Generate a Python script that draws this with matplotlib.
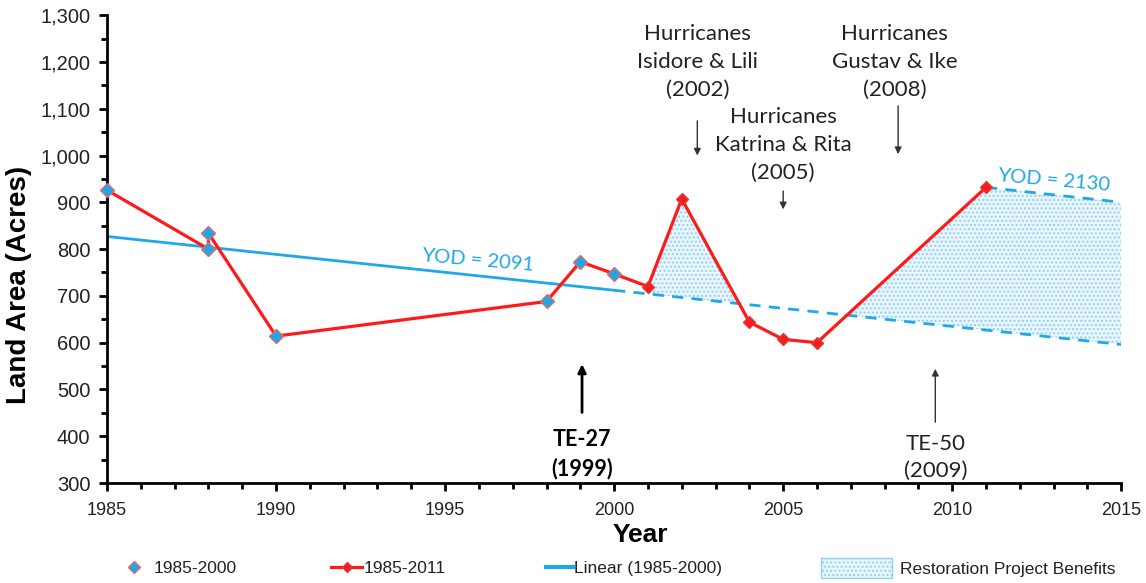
import numpy as np
import matplotlib
matplotlib.use("Agg")
import matplotlib.pyplot as plt
from matplotlib.ticker import MultipleLocator, FuncFormatter
from matplotlib.patches import Patch
from matplotlib.lines import Line2D

plt.rcParams['font.family'] = ['Liberation Sans', 'DejaVu Sans']

# land area, all years (order as plotted)
years = [1985, 1988, 1988, 1990, 1998, 1999, 2000, 2001, 2002, 2004, 2005, 2006, 2011]
acres = [926, 800, 834, 614, 688, 773, 747, 720, 907, 644, 607, 600, 932]

# 1985-2000 subset (blue markers)
years_early = [1985, 1988, 1988, 1990, 1998, 1999, 2000]
acres_early = [926, 800, 834, 614, 688, 773, 747]

# linear trend
trend_years = [1985, 2000, 2015]
trend_vals = [827, 712, 596]
yod2_years = [2011, 2015]
yod2_vals = [932, 900]

BLUE = '#1fa8e8'
RED = '#ff1a1a'
FILL = '#eaf6fd'
HATCH = '#8fd0f2'
CAL = ['Lato', 'DejaVu Sans']

fig = plt.figure(figsize=(11.46, 5.83), dpi=100)
ax = fig.add_axes([0.0934, 0.1715, 0.885, 0.8025])

# shaded restoration benefits
xs = np.linspace(2001, 2015, 1401)
red_top = np.interp(xs, years[7:] + yod2_years[1:], acres[7:] + yod2_vals[1:])
base = np.interp(xs, trend_years, trend_vals)
ax.fill_between(xs, base, red_top, where=red_top > base, interpolate=True,
                facecolor=FILL, edgecolor=HATCH, hatch='....', linewidth=0, zorder=1)

ax.plot(trend_years[:2], trend_vals[:2], color=BLUE, lw=2, zorder=2)
ax.plot(trend_years[1:], trend_vals[1:], color=BLUE, lw=2, ls=(0, (4, 3)), zorder=2)
ax.plot(yod2_years, yod2_vals, color=BLUE, lw=2, ls=(0, (4, 3)), zorder=2)

ax.plot(years, acres, color=RED, lw=2.3, marker='D', ms=6, mfc=RED, mec='#d04040', zorder=3, clip_on=False)
ax.plot(years_early, acres_early, ls='none', marker='D', ms=7.5, mfc=BLUE, mec='#e26a6a', mew=1,
        zorder=4, clip_on=False)

ax.set_xlim(1985, 2015)
ax.set_ylim(300, 1300)
ax.xaxis.set_major_locator(MultipleLocator(5))
ax.xaxis.set_minor_locator(MultipleLocator(1))
ax.yaxis.set_major_locator(MultipleLocator(100))
ax.yaxis.set_minor_locator(MultipleLocator(50))
ax.yaxis.set_major_formatter(FuncFormatter(lambda v, p: f'{int(v):,}'))
for s in ['top', 'right']:
    ax.spines[s].set_visible(False)
for s in ['left', 'bottom']:
    ax.spines[s].set_linewidth(2)
ax.tick_params(which='major', direction='out', length=6, width=2, colors='black')
ax.tick_params(which='minor', direction='out', length=4, width=2)
ax.tick_params(axis='y', pad=6, labelsize=14.5)
ax.tick_params(axis='x', pad=8, labelsize=13)
for lab in ax.get_xticklabels() + ax.get_yticklabels():
    lab.set_color('#222222')
ax.set_xlabel('Year', fontsize=19, fontweight='bold')
ax.set_ylabel('Land Area (Acres)', fontsize=20, fontweight='bold')
ax.xaxis.set_label_coords(0.526, -0.085)
ax.yaxis.set_label_coords(-0.074, 0.423)

ann = dict(family=CAL, fontsize=16, color='#222222', ha='center', va='bottom', linespacing=1.5)
arr = dict(arrowstyle='-|>', color='#333333', lw=1, mutation_scale=10)
ax.text(2002.46, 1118, 'Hurricanes\nIsidore & Lili\n(2002)', **ann)
ax.annotate('', xy=(2002.46, 994), xytext=(2002.46, 1080), arrowprops=arr)
ax.text(2005.0, 941, 'Hurricanes\nKatrina & Rita\n(2005)', **ann)
ax.annotate('', xy=(2005.0, 879), xytext=(2005.0, 930), arrowprops=arr)
ax.text(2008.3, 1118, 'Hurricanes\nGustav & Ike\n(2008)', **ann)
ax.annotate('', xy=(2008.4, 997), xytext=(2008.4, 1112), arrowprops=arr)

ax.text(1999.05, 308, 'TE-27\n(1999)', fontsize=15.5, fontweight='bold', family=CAL,
        ha='center', va='bottom', linespacing=1.45)
ax.annotate('', xy=(1999.05, 560), xytext=(1999.05, 445),
            arrowprops=dict(arrowstyle='-|>', color='black', lw=2, mutation_scale=12))
ax.text(2009.5, 305, 'TE-50\n(2009)', **dict(ann, linespacing=1.4))
ax.annotate('', xy=(2009.5, 550), xytext=(2009.5, 424), arrowprops=arr)

ax.text(1995.95, 776, 'YOD = 2091', color=BLUE, fontsize=14.5, family=CAL,
        rotation=-5, ha='center', va='center')
ax.text(2013.0, 946, 'YOD = 2130', color=BLUE, fontsize=14.5, family=CAL,
        rotation=-5, ha='center', va='center')

# legend entries placed one by one to match the spread-out layout
leg_y = 1 - 568 / 583
entries = [
    (Line2D([], [], ls='none', marker='D', ms=6, mfc=BLUE, mec='#e26a6a'), '1985-2000', 124, 1.2, 0.5, 0.7),
    (Line2D([], [], color=RED, lw=2.3, marker='D', ms=5, mfc=RED, mec='#d04040'), '1985-2011', 331, 1.8, 0.1, 0.7),
    (Line2D([], [], color=BLUE, lw=3), 'Linear (1985-2000)', 546, 1.55, 0.05, 0.7),
    (Patch(facecolor=FILL, edgecolor=HATCH, hatch='....'), 'Restoration Project Benefits', 821, 4.1, 0.45, 1.45),
]
for h, lab, x0, hl, hp, hh in entries:
    lg = fig.legend([h], [lab], loc='center left', bbox_to_anchor=(x0 / 1146, leg_y), frameon=False,
                    fontsize=12.5, handlelength=hl, handletextpad=hp, handleheight=hh,
                    borderpad=0, borderaxespad=0)
    for t in lg.get_texts():
        t.set_color('#222222')

fig.savefig('out.png', dpi=100)
